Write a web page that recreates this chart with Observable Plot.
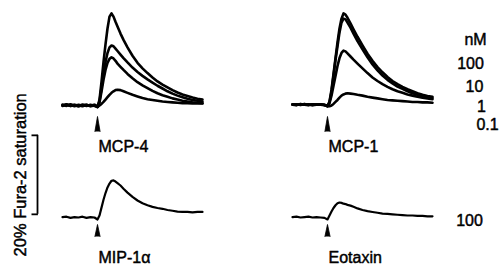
<!DOCTYPE html>
<html><head><meta charset="utf-8">
<script src="https://cdn.jsdelivr.net/npm/d3@7"></script>
<script src="https://cdn.jsdelivr.net/npm/@observablehq/plot@0.6"></script>
<style>
html,body{margin:0;padding:0;background:#fff;}
#chart svg{display:block;}
</style></head><body><div id="chart"></div>
<script>
// time (s) relative to trace start; stimulus at t = 35
const times = [0,4,8,12,16,20,24,28,32,35,37,39,41,43,45,47,49,51,53,55,58,61,65,70,75,80,85,90,95,100,105,110,115,120,125,130,135,140];
const stimTime = 35;
// Δ Fura-2 saturation (%)
const mcp4_100 = [0.2,-0.1,0.3,0.0,-0.2,0.2,-0.1,0.2,-0.1,-0.4, 1.5,6,11,15.5,19.5,22.5,23.3,22.5,21.2,20, 18.2,16.6,14.7,12.6,10.8,9.4,8.2,7.1,6.1,5.3, 4.6,3.9,3.3,2.8,2.4,2.0,1.7,1.5];
const mcp4_10  = [0.1,0.2,-0.1,0.2,0.0,-0.2,0.1,0.0,0.2,-0.3, 1,4.5,8,11,13.3,14.7,15.2,15,14.4,13.8, 12.9,12,10.9,9.6,8.5,7.5,6.6,5.8,5.0,4.3, 3.6,3.0,2.5,2.1,1.7,1.4,1.2,1.0];
const mcp4_1   = [-0.1,0.2,0.1,-0.2,0.2,0.0,0.2,-0.1,0.1,-0.3, 0.8,3.5,6.5,9,10.8,11.8,12.2,11.9,11.3,10.6, 9.8,9.0,8.0,6.9,5.9,5.1,4.4,3.7,3.1,2.6, 2.2,1.8,1.5,1.2,1.0,0.8,0.7,0.6];
const mcp4_01  = [0.0,0.3,-0.1,0.1,-0.2,0.2,0.1,-0.2,0.0,-0.4, 0,0.4,0.9,1.5,2.1,2.7,3.2,3.6,3.9,4.0, 3.9,3.6,3.2,2.7,2.3,1.9,1.6,1.4,1.2,1.0, 0.9,0.8,0.7,0.6,0.6,0.5,0.5,0.5];
const mcp1_100 = [0.3,0.1,0.4,0.2,0.1,0.3,0.2,0.3,0.1,-0.2, 1,4,8,12,16,19.5,22,23.3,23,22.2, 20.8,19.3,17.4,15.2,13.1,11.3,9.7,8.4,7.2,6.2, 5.4,4.7,4.1,3.6,3.1,2.7,2.4,2.2];
const mcp1_10  = [0.2,0.3,0.1,0.3,0.2,0.1,0.3,0.2,0.2,-0.1, 0.8,3.5,7.5,11.5,15,18.5,21,22,21.8,21.0, 19.7,18.2,16.3,14.2,12.2,10.4,8.9,7.6,6.5,5.6, 4.8,4.2,3.6,3.1,2.7,2.4,2.1,1.9];
const mcp1_1   = [0.2,0.1,0.3,0.2,0.3,0.1,0.2,0.3,0.1,-0.1, 0.6,2.5,5,7.5,10,12,13.3,13.9,13.7,13.2, 12.4,11.6,10.6,9.4,8.2,7.1,6.2,5.4,4.7,4.1, 3.6,3.2,2.8,2.5,2.2,2.0,1.8,1.6];
const mcp1_01  = [0.3,0.2,0.2,0.4,0.1,0.3,0.2,0.2,0.1,-0.2, -0.2,0.0,0.4,0.9,1.4,2.0,2.5,2.8,3.0,3.1, 3.0,2.9,2.7,2.5,2.2,2.0,1.8,1.6,1.4,1.3, 1.2,1.1,1.0,0.9,0.9,0.8,0.8,0.7];
const mip1a_100 = [0.1,0.2,-0.1,0.1,0.0,0.2,-0.1,0.1,0.0,-0.5, 0.5,2.5,4.5,6.2,7.6,8.6,9.3,9.4,9.1,8.7, 8.1,7.3,6.3,5.2,4.3,3.6,3.1,2.7,2.4,2.2, 1.9,1.7,1.5,1.4,1.4,1.3,1.4,1.4];
const eotaxin_100 = [0.1,0.2,0.0,0.1,0.2,0.0,0.1,0.0,-0.1,-0.5, 0.5,1.5,2.4,3.1,3.6,3.8,3.7,3.5,3.4,3.2, 3.0,2.7,2.3,1.9,1.6,1.4,1.2,1.0,0.9,0.8, 0.7,0.6,0.5,0.5,0.4,0.4,0.3,0.3];

const panelLabels = ["MCP-4","MCP-1","MIP-1\u03b1","Eotaxin"];
const concLabels = ["100","10","1","0.1"];
const concUnit = "nM";
const singleConc = "100";
const scaleBarValue = 20;        // % Fura-2 saturation
const scaleBarLabel = "20% Fura-2 saturation";

// panel layout (columns/rows of facets)
const panelCol = ["L","R","L","R"];
const panelRow = ["T","T","B","B"];
const panelSeries = [[mcp4_100,mcp4_10,mcp4_1,mcp4_01],[mcp1_100,mcp1_10,mcp1_1,mcp1_01],[mip1a_100],[eotaxin_100]];

const traces = panelLabels.flatMap((lab,p) => panelSeries[p].flatMap((s,si) =>
  s.map((v,i) => ({label:lab, col:panelCol[p], row:panelRow[p], series:lab+"|"+si, t:times[i], v}))));
const panels = panelLabels.map((lab,p) => ({label:lab, col:panelCol[p], row:panelRow[p], t:stimTime}));
const topPanels = panels.filter(d => d.row === "T");
const botPanels = panels.filter(d => d.row === "B");

// legend label placement (px offsets from top-right panel frame corner)
const legendPos = [[43,29],[38,53],[42,76],[49,96],[55,114]];
const legendItems = [concUnit, ...concLabels].map((text,i) => ({text, col:"R", row:"T", dx:legendPos[i][0], dy:legendPos[i][1]}));

const scaleBar = {col:"L", row:"B", from:0.8, value:scaleBarValue, label:scaleBarLabel};

const font = "'Liberation Sans', Arial, Helvetica, sans-serif";
const textInk = {fill:"#000", stroke:"#000", strokeWidth:0.45};

const chart = Plot.plot({
  width: 502, height: 269,
  marginLeft: 62, marginRight: 70, marginTop: 10, marginBottom: 40,
  x: {domain:[0,140], axis:null},
  y: {domain:[-3.04,24.05], axis:null},
  fx: {domain:["L","R"], axis:null, paddingInner:0.391304, paddingOuter:0, round:false},
  fy: {domain:["T","B"], axis:null, paddingInner:0.044643, paddingOuter:0, round:false},
  style: {fontFamily: font, fontSize: "16px", background: "#fff", color: "#000"},
  marks: [
    Plot.line(traces.filter(d => d.row === "T"), {x:"t", y:"v", z:"series", fx:"col", fy:"row", stroke:"#000", strokeWidth:2.6, strokeLinejoin:"round", curve:"linear"}),
    Plot.line(traces.filter(d => d.row === "B"), {x:"t", y:"v", z:"series", fx:"col", fy:"row", stroke:"#000", strokeWidth:2.2, strokeLinejoin:"round", curve:"linear"}),
    // stimulus arrows
    Plot.vector(topPanels, {x:"t", y:0, fx:"col", fy:"row", dy:26, length:15, r:2.6, shape:"spike", anchor:"start", rotate:0, fill:"#000", stroke:"#000", strokeWidth:0.8}),
    Plot.vector(botPanels, {x:"t", y:0, fx:"col", fy:"row", dy:19, length:12, r:2.6, shape:"spike", anchor:"start", rotate:0, fill:"#000", stroke:"#000", strokeWidth:0.8}),
    // panel labels
    Plot.text(topPanels, {x:"t", y:0, fx:"col", fy:"row", text:"label", textAnchor:"start", lineAnchor:"bottom", dx:1, dy:47, fontSize:16, ...textInk}),
    Plot.text(botPanels, {x:"t", y:0, fx:"col", fy:"row", text:"label", textAnchor:"start", lineAnchor:"bottom", dx:1, dy:46, fontSize:16, ...textInk}),
    // concentration legend
    ...legendItems.map(d => Plot.text([d], {fx:"col", fy:"row", text:"text", frameAnchor:"top-right", textAnchor:"middle", lineAnchor:"middle", dx:d.dx, dy:d.dy, fontSize:16, ...textInk})),
    Plot.text([{text:singleConc, col:"R", row:"B"}], {fx:"col", fy:"row", y:0, text:"text", frameAnchor:"right", textAnchor:"middle", lineAnchor:"middle", dx:37, dy:3, fontSize:16, ...textInk}),
    // scale bar
    Plot.ruleX([scaleBar], {x:0, y1:"from", y2:d => d.from + d.value, fx:"col", fy:"row", dx:-25, stroke:"#000", strokeWidth:1.8}),
    Plot.ruleY([scaleBar.from, scaleBar.from + scaleBar.value].map(y => ({y, col:"L", row:"B"})), {y:"y", x1:-30.5, x2:-24.1, fx:"col", fy:"row", stroke:"#000", strokeWidth:1.8}),
    Plot.text([scaleBar], {x:0, y:d => d.from + d.value/2, fx:"col", fy:"row", text:"label", rotate:-90, dx:-41.5, textAnchor:"middle", lineAnchor:"middle", fontSize:16.5, ...textInk})
  ]
});
document.getElementById("chart").appendChild(chart);
</script>
</body></html>
